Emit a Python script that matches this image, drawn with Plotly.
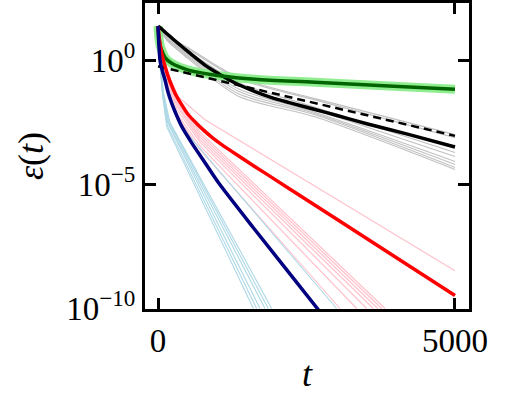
import numpy as np
import plotly.graph_objects as go

# ---- data (t, log10 eps(t)) ----
black_t = [0, 60, 118, 200, 286, 400, 511, 650, 791, 930, 1072, 1200, 1352, 1633, 1900, 2194, 2643, 3000, 3513, 4200, 5000]
black_log = [1.37, 1.26, 1.13, 0.96, 0.78, 0.55, 0.33, 0.06, -0.2, -0.42, -0.62, -0.8, -0.98, -1.27, -1.5, -1.7, -1.99, -2.22, -2.56, -2.98, -3.5]

dashed_t = [0, 5000]
dashed_log = [-0.25, -3.05]

green_t = [0, 15, 40, 62, 120, 230, 511, 1072, 1633, 2643, 3800, 5000]
green_log = [1.37, 0.9, 0.55, 0.4, 0.1, -0.13, -0.4, -0.64, -0.77, -0.89, -1.03, -1.17]

red_t = [0, 25, 60, 118, 200, 286, 400, 511, 650, 791, 930, 1072, 1352, 1633, 1914, 2500, 3500, 5000]
red_log = [1.37, 0.8, 0.3, -0.25, -0.85, -1.33, -1.8, -2.2, -2.55, -2.87, -3.15, -3.4, -3.85, -4.29, -4.72, -5.62, -7.16, -9.48]

navy_t = [0, 15, 34, 70, 118, 170, 230, 300, 399, 567, 791, 1016, 1605, 2700, 3000]
navy_log = [1.37, 0.6, 0.0, -0.4, -0.8, -1.3, -1.73, -2.15, -2.67, -3.33, -4.13, -4.93, -6.75, -10.05, -11.0]

gray_t = [0, 150, 511, 1352, 2643, 5000]
gray_logs = [
    [1.37, 1.0, 0.5, -0.7, -1.55, -3.0],
    [1.37, 1.0, 0.45, -0.75, -1.6, -3.12],
    [1.37, 0.95, 0.35, -0.9, -1.9, -3.72],
    [1.37, 0.9, 0.25, -1.0, -2.0, -3.88],
    [1.37, 0.9, 0.2, -1.15, -2.1, -4.08],
    [1.37, 0.85, 0.15, -1.25, -2.15, -4.2],
    [1.37, 0.8, 0.1, -1.35, -2.2, -4.32],
    [1.37, 0.8, 0.05, -1.45, -2.28, -4.4],
]

pink_ts = [
    [0, 40, 120, 350, 791, 5000],
    [0, 40, 120, 350, 707, 3822],
    [0, 40, 120, 350, 707, 3766],
    [0, 40, 110, 330, 707, 3625],
    [0, 35, 110, 320, 707, 3513],
    [0, 35, 100, 300, 707, 3345],
    [0, 30, 100, 300, 707, 3064],
    [0, 40, 120, 340, 707, 3700],
]
pink_logs = [
    [1.37, 0.5, -0.3, -1.5, -2.4, -8.48],
    [1.37, 0.4, -0.4, -1.7, -2.9, -10.0],
    [1.37, 0.4, -0.45, -1.8, -3.0, -10.0],
    [1.37, 0.35, -0.5, -1.9, -3.2, -10.0],
    [1.37, 0.3, -0.6, -2.0, -3.3, -10.0],
    [1.37, 0.3, -0.6, -2.1, -3.45, -10.0],
    [1.37, 0.25, -0.7, -2.2, -3.6, -10.0],
    [1.37, 0.4, -0.5, -1.85, -3.1, -10.0],
]

lblue_ts = [
    [0, 30, 80, 150, 1605],
    [0, 30, 80, 150, 1661],
    [0, 30, 80, 160, 1717],
    [0, 30, 80, 170, 1801],
    [0, 30, 90, 180, 1857],
    [0, 30, 90, 200, 1914],
    [0, 34, 118, 400, 3008],
]
lblue_logs = [
    [1.37, -0.1, -1.5, -2.7, -10.0],
    [1.37, 0.0, -1.4, -2.6, -10.0],
    [1.37, 0.0, -1.3, -2.5, -10.0],
    [1.37, 0.05, -1.3, -2.5, -10.0],
    [1.37, 0.1, -1.35, -2.45, -10.0],
    [1.37, 0.1, -1.3, -2.5, -10.0],
    [1.37, 0.0, -0.85, -2.7, -10.0],
]

x_tickvals = [0, 5000]
x_ticktext = ["0", "5000"]
y_tickvals = [1e0, 1e-5, 1e-10]
y_ticktext = ["10<sup>0</sup>", "10<sup>\u22125</sup>", "10<sup>\u221210</sup>"]


def ev(logs):
    return np.power(10.0, np.array(logs, dtype=float))


fig = go.Figure()


def add(t, logs, color, width, dash=None, shape="linear", smoothing=1.0):
    line = dict(color=color, width=width, dash=dash, shape=shape)
    if shape == "spline":
        line["smoothing"] = smoothing
    fig.add_trace(go.Scatter(
        x=t, y=ev(logs), mode="lines", line=line,
        showlegend=False, hoverinfo="skip"))


for lg in gray_logs:
    add(gray_t, lg, "#c0c0c0", 1.1, shape="spline", smoothing=0.8)
for t, lg in zip(pink_ts, pink_logs):
    add(t, lg, "#ffc0cb", 1.1)
for t, lg in zip(lblue_ts, lblue_logs):
    add(t, lg, "#add8e6", 1.1)

add(green_t, green_log, "#90ee90", 9, shape="spline")
add(black_t, black_log, "#000000", 3.5, shape="spline", smoothing=0.6)
add(dashed_t, dashed_log, "#000000", 2.5, dash="8px,5px")
add(green_t, green_log, "#006400", 3.5, shape="spline")
add(red_t, red_log, "#ff0000", 3.5, shape="spline", smoothing=0.7)
add(navy_t, navy_log, "#000080", 3.5, shape="spline", smoothing=0.7)

axis_common = dict(
    showline=True, linewidth=3, linecolor="black", mirror="ticks",
    ticks="inside", ticklen=11, tickwidth=3, tickcolor="black",
    showgrid=False, zeroline=False, automargin=False,
    tickfont=dict(family="Liberation Serif", size=33, color="black"),
)

fig.update_layout(
    width=510, height=397,
    margin=dict(l=145, r=41, t=3, b=88),
    paper_bgcolor="white", plot_bgcolor="white",
    font=dict(family="Liberation Serif", size=33, color="black"),
    xaxis=dict(range=[-219, 5236], tickvals=x_tickvals, ticktext=x_ticktext,
               title=dict(text="<i>t</i>", standoff=4,
                          font=dict(family="Liberation Serif", size=36)),
               **axis_common),
    yaxis=dict(type="log", range=[-10.02, 2.3], tickvals=y_tickvals,
               ticktext=y_ticktext,
               title=dict(text="<i>\u03b5</i>(<i>t</i>)", standoff=12,
                          font=dict(family="Liberation Serif", size=36)),
               **axis_common),
)

fig.write_html("out.html", config={"displayModeBar": False},
               post_script="document.body.style.margin='0px';document.body.style.padding='0px';")
